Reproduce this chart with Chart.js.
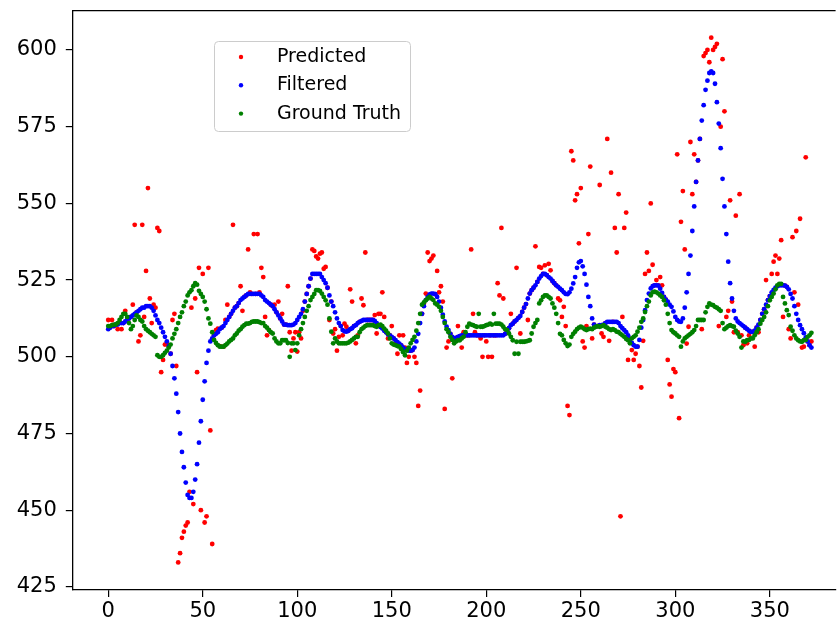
<!DOCTYPE html>
<html>
<head>
<meta charset="utf-8">
<script src="https://cdn.jsdelivr.net/npm/chart.js@4.4.1/dist/chart.umd.min.js"></script>
<style>
  html, body { margin: 0; padding: 0; background: #fff; overflow: hidden; }
  #chart { display: block; }
</style>
</head>
<body>
<canvas id="chart" width="838" height="624"></canvas>
<script>
// x of every point is its index (0..372)
const predicted = [
  512, 510, 512, 510, 510.5, 509, 511, 509, 511, 515,
  512, 512.5, 513, 517, 543, 514.5, 505, 507, 543, 513,
  528, 555, 519, 511, 517, 516, 542, 541, 495, 499,
  504, 504.5, 503.5, 501, 512, 514, 497, 433, 436, 441,
  443, 445, 446, 456, 516, 452, 519, 495, 529, 450,
  527, 446, 448, 529, 476, 439, 507, 508.7, 509.2, 503.5,
  509.5, 503.3, 512, 517, 513, 514, 543, 516, 516.5, 517.5,
  523, 515, 519.5, 520, 535, 521, 520.5, 540, 520.5, 540,
  521, 529, 526, 513, 507, 508.7, 517, 516.5, 517, 514.5,
  518, 512.5, 514, 510.5, 510.5, 523, 508, 502, 506, 508,
  501.7, 508, 506, 515, 518, 520.5, 523, 525.5, 535, 534.5,
  532.7, 532, 533.6, 534, 528.7, 529.3, 522.5, 512, 518, 507.6,
  509, 502, 506.5, 510, 507, 510.8, 509.8, 508.5, 522, 518,
  510, 504.4, 507, 511.4, 519, 516.8, 534, 512, 512, 512,
  512, 513.6, 507.6, 514, 514, 521, 513, 508, 506, 507,
  510, 506, 504.4, 501, 507, 503.7, 507, 503, 498, 500,
  502, 502.2, 500, 498, 484, 489, 514, 517.4, 520.6, 534,
  531.2, 532, 533, 520.4, 528, 521, 523, 518, 483, 503,
  505, 507.5, 493, 506, 506.2, 510, 506.7, 503, 508, 507,
  507, 507, 535, 514, 508, 507, 507, 506, 500, 507,
  505, 500, 507, 500, 507, 507, 524, 520, 542, 519,
  507.5, 508.3, 509.3, 514, 510.8, 511.5, 529, 512.7, 507.6, 514.6,
  516, 517.2, 512, 520.6, 521.7, 522.5, 536, 524.4, 529.3, 529,
  527, 529.8, 526.6, 530.3, 528.2, 524.7, 524, 523.3, 519, 518.4,
  513, 516.3, 510, 484, 481, 567, 564, 551, 553, 537,
  555, 505, 503, 510, 540, 562, 506, 510.5, 510, 510,
  556, 507.6, 506.5, 511, 571, 505.2, 560, 511.4, 542, 534,
  553, 448, 513, 542, 547, 499, 505.8, 502.2, 499, 501,
  503.3, 497, 490, 505.2, 527, 534, 528, 550, 530, 523.3,
  525, 523.3, 526, 523.3, 519.5, 518.6, 499, 491, 487, 496,
  495, 566, 480, 544, 554, 535, 504.3, 509.8, 570, 553,
  566, 557, 564, 571, 509, 598, 599, 600, 596, 604,
  600, 601, 602, 510, 575, 597, 580, 513, 515, 551,
  518, 508, 546, 508, 553, 507, 503.8, 509.5, 504.4, 507,
  508.1, 508.1, 503.3, 509.5, 508, 512, 514, 515.5, 525, 518.5,
  519.8, 527, 531, 533, 527, 532, 538, 513, 523.2, 522.8,
  509, 506, 539, 521, 541, 517, 545, 503, 503.3, 565,
  505, 503.8, 505
];

const filtered = [
  509, 509.5, 510, 510, 510.5, 510.5, 511, 511, 511, 511.5,
  512, 512.5, 513, 513.5, 514, 514.5, 515, 515.5, 516, 516,
  516.5, 516.5, 516.5, 516, 515, 513.5, 512, 511, 509.5, 508,
  506.5, 505, 503.5, 501, 497, 493, 488, 482, 475, 469,
  464, 459, 455, 454, 454, 456, 460, 465, 472, 479,
  486, 492, 498, 502, 505, 506, 507, 507.5, 508, 509,
  509.5, 510, 511, 512, 513, 514, 515, 516, 516.5, 517.5,
  518.5, 519, 519.5, 520, 520.5, 520.5, 520.5, 520.5, 520.5, 520.5,
  520.5, 520, 519.5, 518.5, 518, 517.5, 517, 516.5, 515.5, 514.5,
  513.5, 512.5, 511.5, 510.5, 510.5, 510.3, 510.3, 510.3, 510.5, 511,
  512, 513, 514, 515.5, 518, 520.5, 523, 525.5, 527, 527,
  527, 527, 527, 526, 525, 524, 522.5, 520, 518, 516.5,
  514.5, 512.5, 511, 510, 508.7, 508.3, 508.2, 508.5, 509, 509.3,
  510, 510.3, 511, 511.4, 511.7, 512, 512, 512, 512, 512,
  512, 511.7, 511, 510.3, 509.7, 509.2, 508.5, 508, 507.3, 507,
  506.5, 506, 505.4, 504.8, 504.3, 503.7, 503, 502.5, 502.2, 502,
  502, 502.2, 503, 505, 507.5, 511, 514, 516.5, 518.5, 519.5,
  520.3, 520.6, 520.6, 520.4, 519.5, 518, 516, 513.7, 511.5, 509.8,
  508.7, 507.5, 506.5, 506, 506.2, 506.5, 506.7, 507, 507, 507,
  507, 507, 507, 507, 507, 507, 507, 507, 507, 507,
  507, 507, 507, 507, 507, 507, 507, 507, 507, 507,
  507.5, 508.3, 509.3, 510.3, 510.8, 511.5, 512, 512.7, 513.3, 514.6,
  516, 517.2, 519, 520.6, 521.7, 522.5, 523.3, 524.4, 525.5, 526.3,
  527, 527, 526.6, 526, 525.5, 524.7, 524, 523.3, 522.8, 522.2,
  521.7, 521, 520.5, 520.4, 521, 522.2, 523.9, 526, 529, 530.8,
  531.2, 529.5, 527, 523.5, 519.5, 516.5, 512.5, 510.5, 510, 510,
  510.3, 510.3, 510.5, 511, 511.4, 511.4, 511.4, 511.4, 511.4, 511.4,
  511, 510, 509.3, 508.7, 508, 507, 505.8, 504.5, 503.8, 503.3,
  503.3, 505.5, 509.5, 512, 515.2, 518.5, 520.6, 522.3, 523, 523.3,
  523.3, 523.2, 522.2, 520.8, 519.5, 518.6, 518, 517, 516.3, 514.8,
  513, 512, 511.5, 511.4, 512.5, 516, 521, 527, 533, 541,
  549, 557, 564, 571, 577, 582, 587, 590, 592.5, 593,
  592.5, 589, 583, 576, 568, 558, 549, 540, 531, 524,
  519, 515, 512.5, 511.5, 511, 510.5, 510, 509.5, 509, 508.5,
  508.1, 508.1, 508.5, 509.5, 510.5, 512, 514, 515.5, 517, 518.5,
  519.8, 521, 521.8, 522.5, 523, 523.3, 523.3, 523.3, 523.2, 522.8,
  522, 520.5, 519, 516.5, 514, 512, 510.3, 509, 507.7, 506.3,
  505, 503.8, 503
];

const groundTruth = [
  510, 510, 510.3, 510.5, 510.5, 511, 512, 513, 514, 514,
  513, 511, 509, 510, 512, 513.5, 513, 512, 511.5, 510,
  509, 508.5, 508, 507.5, 507, 506.5, 500.5, 500, 500, 500.5,
  501.3, 502, 503, 504, 506, 507.5, 509, 511, 513, 514.5,
  516.5, 518, 520, 521, 521.7, 523, 524, 523.5, 521.5, 520.5,
  519.5, 518, 515.5, 512.5, 510.8, 508, 505.5, 504.5, 503.8, 503.3,
  503.3, 503.3, 503.8, 504.3, 505, 505.5, 506, 507, 507.6, 508.5,
  509, 509.8, 510.3, 510.8, 510.8, 511, 511.4, 511.5, 511.5, 511.5,
  511.3, 511, 511, 510, 509.5, 508.7, 508, 507.6, 506, 505,
  504.4, 504.4, 505.4, 505.4, 505.4, 504.5, 500, 504.4, 504.4, 502.2,
  504.4, 507, 509, 511, 513, 515, 516.5, 518.5, 519.5, 520.5,
  521.7, 521.7, 521.5, 520.6, 519.5, 518.4, 517, 512.5, 508.2, 504.4,
  506, 505, 504.4, 504.4, 504.4, 504.4, 504.4, 504.6, 505, 505.5,
  506, 506.5, 506.5, 508, 509, 509.5, 510, 510.3, 510.3, 510.3,
  510.3, 510, 509.8, 510.3, 510.5, 510, 509.2, 508.5, 507.6, 506,
  504.4, 504, 503.8, 503.5, 503.3, 502.5, 501.5, 500.5, 502, 503,
  504.4, 505.5, 506.5, 508.5, 511, 514, 517, 517.7, 518.4, 519,
  519.5, 519, 518.5, 517.4, 517, 516.3, 515, 513, 511, 509,
  508, 506.5, 505.5, 504.4, 505, 505.4, 505.4, 506, 506.5, 508,
  509.8, 510.8, 510.5, 510.3, 510, 509.8, 514, 509.8, 509.8, 510,
  510.3, 510.5, 510.8, 510.5, 514, 510.8, 510.8, 510.8, 510.5, 509.8,
  509, 508.7, 507.6, 506.5, 505.4, 501, 504.9, 501, 504.9, 504.9,
  504.9, 505, 505.2, 505.4, 507.6, 509.8, 511, 512, 517.4, 518.4,
  519.5, 520, 520, 519.5, 519, 517.4, 516, 514, 511, 507.5,
  507, 505.5, 504.4, 503.5, 504, 506.5, 507.5, 508.2, 509, 509.5,
  509.8, 509.5, 509, 508.7, 509, 509.2, 509, 509.5, 509.8, 510,
  509.8, 510, 510.3, 509.8, 509.5, 509, 508.7, 509, 508.7, 508.2,
  508, 507.5, 507, 506.5, 505.8, 505.4, 504.4, 506, 506.5, 507,
  508.2, 509.5, 511.4, 512.5, 514.6, 516.5, 518, 520, 521, 521.2,
  521, 520.6, 520, 519.5, 518.4, 517, 514, 511, 508.7, 508,
  507.6, 507, 506.5, 503.3, 505, 506, 506.5, 507, 507.5, 508,
  508.7, 510, 512, 512, 512, 512, 514.5, 516.3, 517.4, 517,
  516.8, 516.3, 516, 515.5, 515, 511, 509, 509.5, 510, 510.3,
  510, 509.8, 508.5, 507.6, 506.5, 503, 505, 504.9, 505.4, 505.5,
  506, 506, 507, 508, 509, 510.8, 512, 513, 514.5, 516.5,
  518.4, 519.5, 520.6, 522, 523.3, 523.8, 523.8, 519.5, 517.4, 515.2,
  513.6, 509.8, 508.5, 507, 506, 505.4, 505, 504.9, 505.4, 505.5,
  506.5, 507, 507.8
];

const seriesNames = ['Predicted', 'Filtered', 'Ground Truth'];
const seriesColors = ['#ff0000', '#0000ff', '#008000'];
const xTicks = [0, 50, 100, 150, 200, 250, 300, 350];
const yTicks = [425, 450, 475, 500, 525, 550, 575, 600];

const FONT = '"DejaVu Sans", sans-serif';

function toPoints(values) {
    return values.map((v, i) => ({ x: i, y: v }));
}

// top spine (matplotlib box); right spine falls outside the picture
const topSpine = {
    id: 'topSpine',
    afterDraw(chart) {
        const { ctx, chartArea } = chart;
        ctx.save();
        ctx.strokeStyle = '#000';
        ctx.lineWidth = 1.3;
        ctx.beginPath();
        ctx.moveTo(chartArea.left, chartArea.top);
        ctx.lineTo(chartArea.right, chartArea.top);
        ctx.stroke();
        ctx.restore();
    }
};

// legend box drawn inside the plot like matplotlib's
const boxLegend = {
    id: 'boxLegend',
    afterDraw(chart) {
        const ctx = chart.ctx;
        const x = 214.5, y = 41.5, w = 196, h = 90, r = 4;
        ctx.save();
        ctx.fillStyle = 'rgba(255,255,255,0.8)';
        ctx.strokeStyle = '#cccccc';
        ctx.lineWidth = 1;
        ctx.beginPath();
        ctx.roundRect(x, y, w, h, r);
        ctx.fill();
        ctx.stroke();
        ctx.font = '19px ' + FONT;
        ctx.textBaseline = 'middle';
        seriesNames.forEach((name, i) => {
            const cy = 57 + i * 28.3;
            ctx.fillStyle = seriesColors[i];
            ctx.beginPath();
            ctx.arc(241, cy, 2.2, 0, Math.PI * 2);
            ctx.fill();
            ctx.fillStyle = '#000';
            ctx.fillText(name, 277, cy);
        });
        ctx.restore();
    }
};

function setupChart() {
    const allSeries = [predicted, filtered, groundTruth];
    const datasets = allSeries.map((vals, i) => ({
        label: seriesNames[i],
        data: toPoints(vals),
        backgroundColor: seriesColors[i],
        borderColor: seriesColors[i],
        pointRadius: 2.4,
        pointBorderWidth: 0,
        pointHoverRadius: 2.4,
        order: 3 - i
    }));

    new Chart(document.getElementById('chart').getContext('2d'), {
        type: 'scatter',
        data: { datasets },
        options: {
            responsive: false,
            animation: false,
            devicePixelRatio: 1,
            layout: { padding: { top: 10.7, right: 0, left: 0, bottom: 0 } },
            plugins: { legend: { display: false }, tooltip: { enabled: false } },
            scales: {
                x: {
                    type: 'linear',
                    min: -18.75,
                    max: 384.8,
                    afterBuildTicks: (s) => { s.ticks = xTicks.map(v => ({ value: v })); },
                    afterFit: (s) => {
                        s.height = 34;
                        s.paddingLeft = 0; s.paddingRight = 0;
                    },
                    grid: { drawOnChartArea: false, drawTicks: true, tickLength: 7, color: '#000', lineWidth: 1.2 },
                    border: { display: true, color: '#000', width: 1.3 },
                    ticks: { color: '#000', font: { family: FONT, size: 21 }, padding: 2, maxRotation: 0, autoSkip: false }
                },
                y: {
                    type: 'linear',
                    min: 424,
                    max: 612.8,
                    afterBuildTicks: (s) => { s.ticks = yTicks.map(v => ({ value: v })); },
                    afterFit: (s) => {
                        s.width = 72.8;
                        s.paddingTop = 0; s.paddingBottom = 0;
                    },
                    grid: { drawOnChartArea: false, drawTicks: true, tickLength: 7, color: '#000', lineWidth: 1.2 },
                    border: { display: true, color: '#000', width: 1.3 },
                    ticks: { color: '#000', font: { family: FONT, size: 21 }, padding: 9, autoSkip: false }
                }
            }
        },
        plugins: [topSpine, boxLegend]
    });
}

window.onload = setupChart;
</script>
</body>
</html>
